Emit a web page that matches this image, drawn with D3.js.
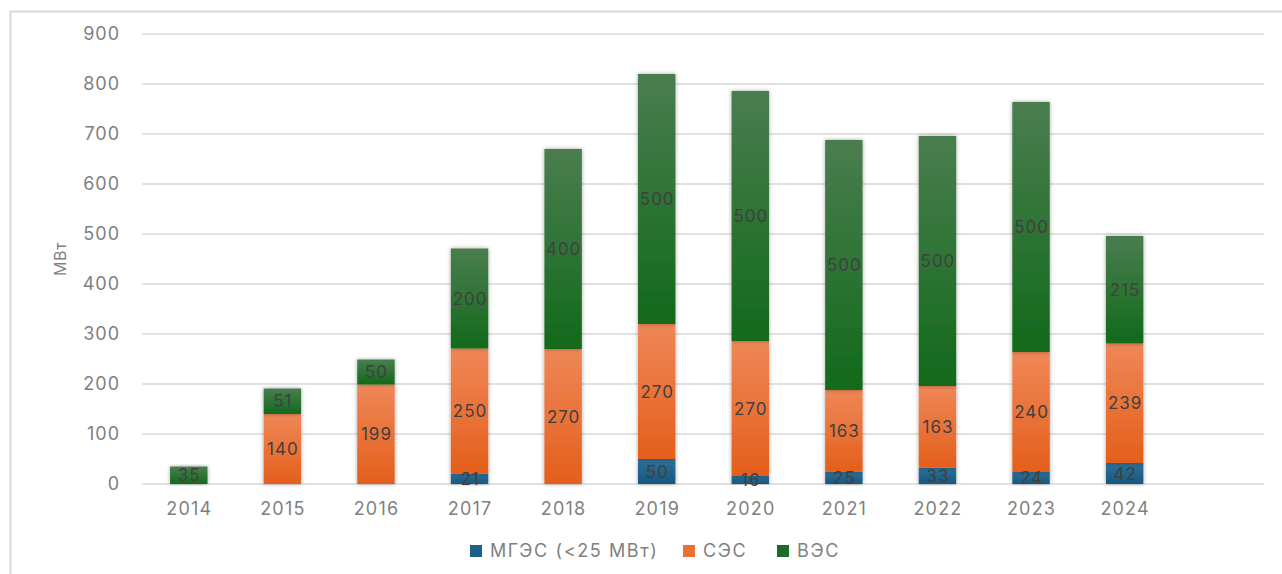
<!DOCTYPE html>
<html>
<head>
<meta charset="utf-8">
<script src="https://cdn.jsdelivr.net/npm/d3@7"></script>
<style>
  body { margin: 0; background: #fff; }
  svg { display: block; font-family: Inter, "Noto Sans", sans-serif; }
</style>
</head>
<body>
<svg id="chart" width="1282" height="574"></svg>
<script>
// data
var years = ["2014", "2015", "2016", "2017", "2018", "2019", "2020", "2021", "2022", "2023", "2024"];
var hydro = [0, 0, 0, 21, 0, 50, 16, 25, 33, 24, 42];      // МГЭС (<25 МВт)
var solar = [0, 140, 199, 250, 270, 270, 270, 163, 163, 240, 239]; // СЭС
var wind  = [35, 51, 50, 200, 400, 500, 500, 500, 500, 500, 215];  // ВЭС
var seriesNames = ["МГЭС (<25 МВт)", "СЭС", "ВЭС"];
var yTicks = [0, 100, 200, 300, 400, 500, 600, 700, 800, 900];

var chart = {};
chart.left = 142;
chart.right = 1265;
chart.top = 34;
chart.bottom = 484;
chart.colors = [
  {top: "#2f7099", bottom: "#17577f", flat: "#1f5f8b"},
  {top: "#ef8757", bottom: "#e45f1b", flat: "#ed7033"},
  {top: "#4a7d4f", bottom: "#126a1b", flat: "#1e6b26"}
];

var svg = d3.select("#chart");

// outer frame
svg.append("path")
  .attr("d", "M10.5,574 L10.5,11.5 L1282,11.5")
  .attr("fill", "none")
  .attr("stroke", "#d9d9d9")
  .attr("stroke-width", 2);

var defs = svg.append("defs");
chart.colors.forEach(function(c, i) {
  var g = defs.append("linearGradient")
    .attr("id", "grad" + i)
    .attr("x1", 0).attr("y1", 0).attr("x2", 0).attr("y2", 1);
  g.append("stop").attr("offset", "0%").attr("stop-color", c.top);
  g.append("stop").attr("offset", "100%").attr("stop-color", c.bottom);
});
var shadow = defs.append("filter").attr("id", "shadow")
  .attr("x", "-30%").attr("y", "-10%").attr("width", "160%").attr("height", "120%");
shadow.append("feDropShadow")
  .attr("dx", 0).attr("dy", 0).attr("stdDeviation", 2)
  .attr("flood-color", "#000").attr("flood-opacity", 0.35);

// 12 bands, last one stays empty like in the original
var x = d3.scaleBand()
  .domain(years.concat([""]))
  .range([chart.left, chart.right])
  .paddingInner(0.6)
  .paddingOuter(0.3);

var y = d3.scaleLinear()
  .domain([0, 900])
  .range([chart.bottom, chart.top]);

// grid
svg.append("g").selectAll("line")
  .data(yTicks)
  .enter().append("line")
  .attr("x1", chart.left).attr("x2", chart.right - 1)
  .attr("y1", function(d) { return y(d); })
  .attr("y2", function(d) { return y(d); })
  .attr("stroke", "#d9d9d9")
  .attr("stroke-width", 1.5);

// y axis labels
var yAxis = svg.append("g")
  .attr("transform", "translate(119,0)")
  .call(d3.axisLeft(y).tickValues(yTicks).tickSize(0).tickPadding(0));
yAxis.select(".domain").remove();
yAxis.selectAll("text")
  .attr("fill", "#7f7f7f")
  .attr("dx", "1px")
  .style("font-size", "18px")
  .style("letter-spacing", "1px")
  .style("font-family", "Inter, 'Noto Sans', sans-serif");

// x axis labels
var xAxis = svg.append("g")
  .attr("transform", "translate(0," + (chart.bottom + 18) + ")")
  .call(d3.axisBottom(x).tickSize(0).tickPadding(0));
xAxis.select(".domain").remove();
xAxis.selectAll("text")
  .attr("fill", "#7f7f7f")
  .attr("dx", "0.5px")
  .style("font-size", "18px")
  .style("letter-spacing", "1.2px")
  .style("font-family", "Inter, 'Noto Sans', sans-serif");

svg.append("text")
  .attr("transform", "translate(66,259) rotate(-90)")
  .attr("text-anchor", "middle")
  .attr("fill", "#7f7f7f")
  .style("font-size", "16px")
  .style("letter-spacing", "0.5px")
  .text("МВт");

// stacked bars
var rows = years.map(function(yr, i) {
  return {year: yr, v0: hydro[i], v1: solar[i], v2: wind[i]};
});
var stack = d3.stack().keys(["v0", "v1", "v2"]);
var layers = stack(rows);

var barG = svg.append("g");
layers.forEach(function(layer, li) {
  barG.append("g").selectAll("rect")
    .data(layer.filter(function(d) { return d[1] - d[0] > 0; }))
    .enter().append("rect")
    .attr("x", function(d) { return x(d.data.year); })
    .attr("width", x.bandwidth())
    .attr("y", function(d) { return y(d[1]); })
    .attr("height", function(d) { return y(d[0]) - y(d[1]); })
    .attr("fill", "url(#grad" + li + ")")
    .attr("filter", "url(#shadow)");
});

// data labels
layers.forEach(function(layer) {
  barG.append("g").selectAll("text")
    .data(layer.filter(function(d) { return d[1] - d[0] > 0; }))
    .enter().append("text")
    .attr("x", function(d) { return x(d.data.year) + x.bandwidth() / 2 + 0.5; })
    .attr("y", function(d) { return (y(d[0]) + y(d[1])) / 2; })
    .attr("dy", "0.36em")
    .attr("text-anchor", "middle")
    .attr("fill", "#404040")
    .style("font-size", "17px")
    .style("letter-spacing", "1px")
    .text(function(d) { return d[1] - d[0]; });
});

// legend
var legendItems = [
  {name: seriesNames[0], x: 470},
  {name: seriesNames[1], x: 683},
  {name: seriesNames[2], x: 777}
];
var legend = svg.append("g").selectAll("g")
  .data(legendItems)
  .enter().append("g")
  .attr("transform", function(d) { return "translate(" + d.x + ",551)"; });
legend.append("rect")
  .attr("x", 0).attr("y", -6)
  .attr("width", 12).attr("height", 12)
  .attr("fill", function(d, i) { return chart.colors[i].flat; });
legend.append("text")
  .attr("x", 20)
  .attr("dy", "0.36em")
  .attr("fill", "#7f7f7f")
  .style("font-size", "18px")
  .style("letter-spacing", "1.6px")
  .text(function(d) { return d.name; });
</script>
</body>
</html>
